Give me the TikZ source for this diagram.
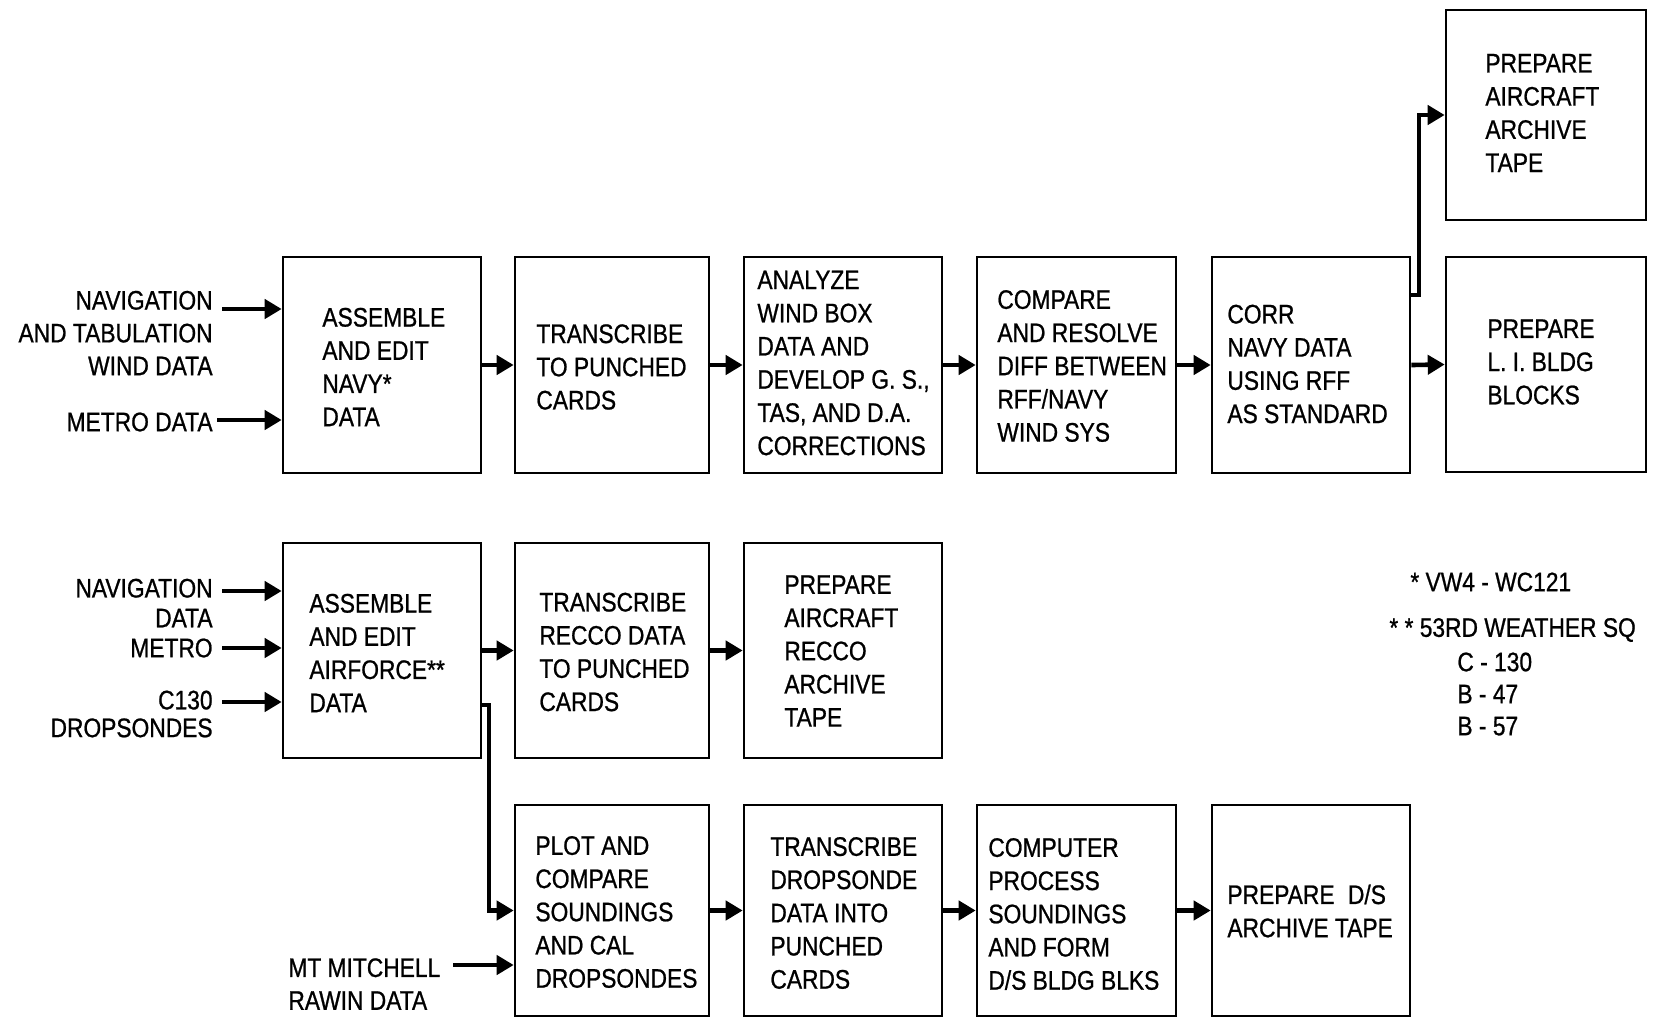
\documentclass[tikz,border=0pt]{standalone}
\usepackage{fontspec}
\setmainfont[FakeStretch=0.85, FakeBold=0.8]{Liberation Sans}
\usetikzlibrary{arrows.meta,fit}
\begin{document}
\begin{tikzpicture}[x=0.5pt,y=-0.5pt,
  box/.style={draw, line width=1.3pt, inner sep=0pt},
  txt/.style={align=left, inner sep=0pt, anchor=west, font=\fontsize{13.4}{16.6}\selectfont},
  lbl/.style={inner sep=0pt, font=\fontsize{13.4}{16.4}\selectfont},
  flow/.style={line width=2.3pt, -{Triangle[length=8.5pt,width=9.5pt]}},
]
\path[fill=white, use as bounding box] (0,0) rectangle (1660,1019);

% top row boxes
\node[box, fit={(283,257) (481,473)}] (b1) {};
\node[box, fit={(515,257) (709,473)}] (b2) {};
\node[box, fit={(744,257) (942,473)}] (b3) {};
\node[box, fit={(977,257) (1176,473)}] (b4) {};
\node[box, fit={(1212,257) (1410,473)}] (b5) {};
\node[box, fit={(1446,257) (1646,472)}] (b6) {};
\node[box, fit={(1446,10) (1646,220)}] (b7) {};

\node[txt] (t1) at (322,367) {ASSEMBLE\\AND EDIT\\NAVY*\\DATA};
\node[txt] (t2) at (536,367) {TRANSCRIBE\\TO PUNCHED\\CARDS};
\node[txt] (t3) at (757,363) {ANALYZE\\WIND BOX\\DATA AND\\DEVELOP G. S.,\\TAS, AND D.A.\\CORRECTIONS};
\node[txt] (t4) at (997,366) {COMPARE\\AND RESOLVE\\DIFF BETWEEN\\RFF/NAVY\\WIND SYS};
\node[txt] (t5) at (1227,364) {CORR\\NAVY DATA\\USING RFF\\AS STANDARD};
\node[txt] (t6) at (1487,362) {PREPARE\\L. I. BLDG\\BLOCKS};
\node[txt] (t7) at (1485,113) {PREPARE\\AIRCRAFT\\ARCHIVE\\TAPE};

% top inputs
\node[lbl, align=right, anchor=east] (n1) at (213,333) {NAVIGATION\\AND TABULATION\\WIND DATA};
\node[lbl, anchor=east] (n2) at (213,422) {METRO DATA};
\coordinate (i1) at (222,309);
\coordinate (i2) at (217,420);
\draw[flow] (i1) -- (i1 -| b1.west);
\draw[flow] (i2) -- (i2 -| b1.west);

\draw[flow] (b1.east) -- (b2.west);
\draw[flow] (b2.east) -- (b3.west);
\draw[flow] (b3.east) -- (b4.west);
\draw[flow] (b4.east) -- (b5.west);
\draw[flow] (b5.east) -- (b6.west);
\coordinate (k1) at (1419,295);
\draw[flow] (b5.east |- k1) -- (k1) |- (b7.west);

% middle row
\node[box, fit={(283,543) (481,758)}] (a1) {};
\node[box, fit={(515,543) (709,758)}] (a2) {};
\node[box, fit={(744,543) (942,758)}] (a3) {};

\node[txt] (ta1) at (309,653) {ASSEMBLE\\AND EDIT\\AIRFORCE**\\DATA};
\node[txt] (ta2) at (539,652) {TRANSCRIBE\\RECCO DATA\\TO PUNCHED\\CARDS};
\node[txt] (ta3) at (784,651) {PREPARE\\AIRCRAFT\\RECCO\\ARCHIVE\\TAPE};

\node[lbl, align=right, anchor=east] (m1) at (213,603) {NAVIGATION\\[-1.5pt]DATA};
\node[lbl, anchor=east] (m2) at (213,648) {METRO};
\node[lbl, align=right, anchor=east] (m3) at (213,714) {C130\\[-2.5pt]DROPSONDES};
\coordinate (j1) at (222,591);
\coordinate (j2) at (222,648);
\coordinate (j3) at (222,702);
\draw[flow] (j1) -- (j1 -| a1.west);
\draw[flow] (j2) -- (j2 -| a1.west);
\draw[flow] (j3) -- (j3 -| a1.west);

\draw[flow] (a1.east) -- (a2.west);
\draw[flow] (a2.east) -- (a3.west);

% bottom row
\node[box, fit={(515,805) (709,1016)}] (d1) {};
\node[box, fit={(744,805) (942,1016)}] (d2) {};
\node[box, fit={(977,805) (1176,1016)}] (d3) {};
\node[box, fit={(1212,805) (1410,1016)}] (d4) {};

\node[txt] (td1) at (535,912) {PLOT AND\\COMPARE\\SOUNDINGS\\AND CAL\\DROPSONDES};
\node[txt] (td2) at (770,913) {TRANSCRIBE\\DROPSONDE\\DATA INTO\\PUNCHED\\CARDS};
\node[txt] (td3) at (988,914) {COMPUTER\\PROCESS\\SOUNDINGS\\AND FORM\\D/S BLDG BLKS};
\node[txt] (td4) at (1227,911) {PREPARE\enspace D/S\\ARCHIVE TAPE};

\coordinate (k2) at (489,705);
\draw[flow] (a1.east |- k2) -- (k2) |- (d1.west);

\node[lbl, align=left, anchor=west] (mt) at (288,984) {MT MITCHELL\\RAWIN DATA};
\coordinate (i3) at (453,965);
\draw[flow] (i3) -- (i3 -| d1.west);

\draw[flow] (d1.east) -- (d2.west);
\draw[flow] (d2.east) -- (d3.west);
\draw[flow] (d3.east) -- (d4.west);

% legend
\node[lbl, anchor=west] (l1) at (1410,582) {* VW4 - WC121};
\node[lbl, anchor=west] (l2) at (1389,630) {* * 53RD WEATHER SQ};
\node[lbl, align=left, anchor=west] (l3) at (1457,694) {C - 130\\[-0.4pt]B - 47\\[-0.4pt]B - 57};
\end{tikzpicture}
\end{document}
